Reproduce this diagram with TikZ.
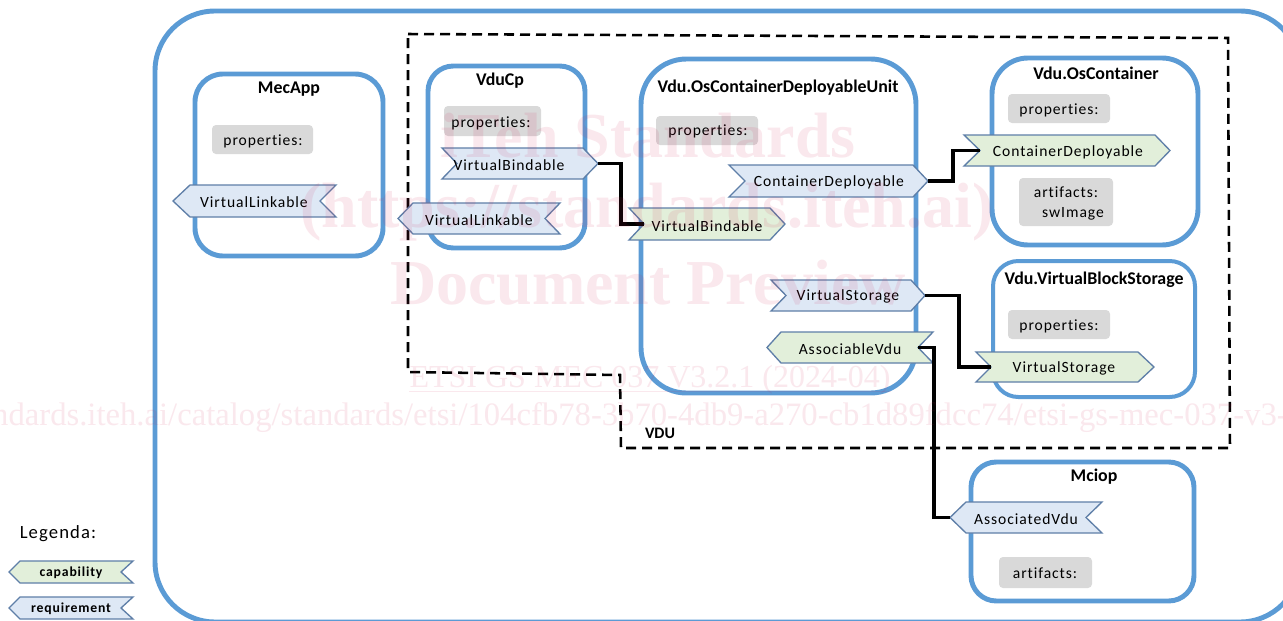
\documentclass[tikz,border=0pt]{standalone}
\usepackage{fontspec}
\setmainfont[Ligatures=NoCommon]{Carlito}
\newfontfamily\lblfont[LetterSpace=6,Ligatures=NoCommon]{Carlito}
\newfontfamily\wmfont{Liberation Serif}
\usetikzlibrary{calc}
\definecolor{boxblue}{HTML}{5B9BD5}
\definecolor{ribblue}{HTML}{DEE8F5}
\definecolor{ribgreen}{HTML}{E2EFDA}
\definecolor{ribline}{HTML}{5F7FA8}
\definecolor{greybox}{HTML}{D9D9D9}
\definecolor{wmark}{HTML}{D21E50}
\tikzset{
 x=0.75pt,y=-0.75pt,
 bluebox/.style={draw=boxblue,line width=3.7pt,fill=none},
 ribbon/.style={draw=ribline,line width=1pt,line join=miter},
 conn/.style={draw=black,line width=2.9pt,line join=miter},
 lbl/.style={font=\lblfont\fontsize{11.7}{13}\selectfont,inner sep=0pt,text=black},
 ttl/.style={font=\bfseries\fontsize{13.4}{15}\selectfont,inner sep=0pt,text=black,yshift=-0.8pt},
 legendlbl/.style={font=\lblfont\bfseries\fontsize{10.3}{12}\selectfont,inner sep=0pt,text=black},
 wm/.style={text=wmark,text opacity=.10,inner sep=0pt},
}
\newcommand{\ribright}[9]{%
 \def\rbtxt{#9}\ribrightc{#1}{#2}{#3}{#4}{#5}{#6}{#7}{#8}}
\newcommand{\ribrightc}[8]{%
 \fill[#2] (#3,#7) -- (#5,#7) -- (#6,{(#7+#8)/2}) -- (#5,#8) -- (#3,#8) -- (#4,{(#7+#8)/2}) -- cycle;
 \draw[ribbon] (#3,#7) -- (#5,#7) -- (#6,{(#7+#8)/2}) -- (#5,#8) -- (#3,#8) -- (#4,{(#7+#8)/2}) -- cycle;
 \coordinate (#1-tip) at (#6,{(#7+#8)/2});
 \coordinate (#1-notch) at (#4,{(#7+#8)/2});
 \rbtxt}
\newcommand{\ribleft}[9]{%
 \def\rbtxt{#9}\ribleftc{#1}{#2}{#3}{#4}{#5}{#6}{#7}{#8}}
\newcommand{\ribleftc}[8]{%
 \fill[#2] (#3,{(#7+#8)/2}) -- (#4,#7) -- (#6,#7) -- (#5,{(#7+#8)/2}) -- (#6,#8) -- (#4,#8) -- cycle;
 \draw[ribbon] (#3,{(#7+#8)/2}) -- (#4,#7) -- (#6,#7) -- (#5,{(#7+#8)/2}) -- (#6,#8) -- (#4,#8) -- cycle;
 \coordinate (#1-tip) at (#3,{(#7+#8)/2});
 \coordinate (#1-notch) at (#5,{(#7+#8)/2});
 \rbtxt}
\newcommand{\greyb}[5]{%
 \fill[greybox,rounded corners=3pt] (#1,#3) rectangle (#2,#4);
 #5}
\begin{document}
\begin{tikzpicture}
\clip (0,0) rectangle (1283,621);
\fill[white] (0,0) rectangle (1283,621);
% outer
\draw[bluebox,rounded corners=45pt] (155,11) rectangle (1300,622);
% dashed VDU region
\draw[black,line width=1.9pt,dash pattern=on 7.5pt off 4.5pt] (408,34) -- (1228,38) -- (1230,448) -- (621,448) -- (620,375) -- (408,372) -- cycle;
\node[font=\bfseries\fontsize{12}{14}\selectfont,inner sep=0pt] (vdu) at (660,433) {VDU};
% boxes
\draw[bluebox,rounded corners=21pt] (195,74) rectangle (383,256);
\draw[bluebox,rounded corners=19pt] (428,66) rectangle (585,248);
\draw[bluebox,rounded corners=34pt] (641,59) rectangle (916,393);
\draw[bluebox,rounded corners=27pt] (992,58) rectangle (1198,245);
\draw[bluebox,rounded corners=19pt,line width=3pt] (993,261) rectangle (1195,397);
\draw[bluebox,rounded corners=19pt] (971,462) rectangle (1194,601);
% titles
\node[ttl] (t1) at (289,88) {MecApp};
\node[ttl] (t2) at (500,80) {VduCp};
\node[ttl] (t3) at (778,87) {Vdu.OsContainerDeployableUnit};
\node[ttl] (t4) at (1096,72) {Vdu.OsContainer};
\node[ttl] (t5) at (1094,279) {Vdu.VirtualBlockStorage};
\node[ttl] (t6) at (1094,476) {Mciop};
% grey
\greyb{212}{313}{125}{154}{\node[lbl] (p1) at (263,141) {properties:};}
\greyb{444}{541}{106}{136}{\node[lbl] (p2) at (491,123) {properties:};}
\greyb{656}{758}{116}{145}{\node[lbl] (p3) at (708,131) {properties:};}
\greyb{1008}{1110}{94}{123}{\node[lbl] (p4) at (1059,110) {properties:};}
\greyb{1019}{1113}{178}{226}{\node[lbl] (a4) at (1066,192) {artifacts:};\node[lbl] (a5) at (1073,214) {swImage};}
\greyb{1008}{1110}{310}{339}{\node[lbl] (p5) at (1059,326) {properties:};}
\greyb{999}{1092}{557}{588}{\node[lbl] (a6) at (1045,573) {artifacts:};}
% ribbons
\ribleft{vl1}{ribblue}{173}{190}{320}{336}{185}{217}{\node[lbl] (l1) at (254,202) {VirtualLinkable};}
\ribright{vb1}{ribblue}{442}{457}{583}{598}{148}{179}{\node[lbl] (l2) at (509,165) {VirtualBindable};}
\ribleft{vl2}{ribblue}{398}{413}{545}{560}{203}{234}{\node[lbl] (l3) at (479,220) {VirtualLinkable};}
\ribright{vb2}{ribgreen}{629}{644}{770}{785}{208}{240}{\node[lbl] (l4) at (707,226) {VirtualBindable};}
\ribright{cd1}{ribblue}{729}{745}{913}{928}{165}{197}{\node[lbl] (l5) at (829,182) {ContainerDeployable};}
\ribright{cd2}{ribgreen}{964}{980}{1155}{1170}{135}{166}{\node[lbl] (l6) at (1068,152) {ContainerDeployable};}
\ribright{vs1}{ribblue}{771}{786}{911}{925}{280}{311}{\node[lbl] (l7) at (848,296) {VirtualStorage};}
\ribright{vs2}{ribgreen}{976}{991}{1138}{1154}{352}{382}{\node[lbl] (l8) at (1064,368) {VirtualStorage};}
\ribleft{av1}{ribgreen}{767}{781}{918}{933}{332}{363}{\node[lbl] (l9) at (850,349) {AssociableVdu};}
\ribleft{av2}{ribblue}{950}{966}{1086}{1102}{502}{533}{\node[lbl] (l10) at (1026,519) {AssociatedVdu};}
% connectors
\coordinate (m1) at (621,190);
\coordinate (m2) at (953,165);
\coordinate (m3) at (959,330);
\coordinate (m4) at (934,430);
\draw[conn] (vb1-tip) -| (m1) |- (vb2-notch);
\draw[conn] (cd1-tip) -| (m2) |- (cd2-notch);
\draw[conn] (vs1-tip) -| (m3) |- (vs2-notch);
\draw[conn] (av1-notch) -| (m4) |- (av2-tip);
% legend
\node[inner sep=0pt,font=\lblfont\fontsize{14}{16}\selectfont] (leg) at (58,534) {Legenda:};
\ribleft{lc}{ribgreen}{9}{20}{121}{133}{561}{583}{\node[legendlbl] (lc-t) at (71,573) {capability};}
\ribleft{lr}{ribblue}{9}{20}{121}{133}{597}{619}{\node[legendlbl] (lr-t) at (71,609) {requirement};}
% watermark
\node[wm,font=\wmfont\bfseries\fontsize{48}{54}\selectfont] (w1) at (648,136) {iTeh Standards};
\node[wm,font=\wmfont\bfseries\fontsize{48}{54}\selectfont] (w2) at (647,212) {(https://standards.iteh.ai)};
\node[wm,font=\wmfont\bfseries\fontsize{48}{54}\selectfont] (w3) at (648,283) {Document Preview};
\node[wm,font=\wmfont\fontsize{24}{26}\selectfont] (w4) at (650,380) {ETSI GS MEC 037 V3.2.1 (2024-04)};
\draw[wmark,opacity=.10,line width=.9pt] ($(w4.base west)+(0,4)$) -- ($(w4.base east)+(0,4)$);
\node[wm,font=\wmfont\fontsize{24.5}{27}\selectfont] (w5) at (658,418) {https://standards.iteh.ai/catalog/standards/etsi/104cfb78-3b70-4db9-a270-cb1d89fdcc74/etsi-gs-mec-037-v3-2-1-2024-04};
\end{tikzpicture}
\end{document}
